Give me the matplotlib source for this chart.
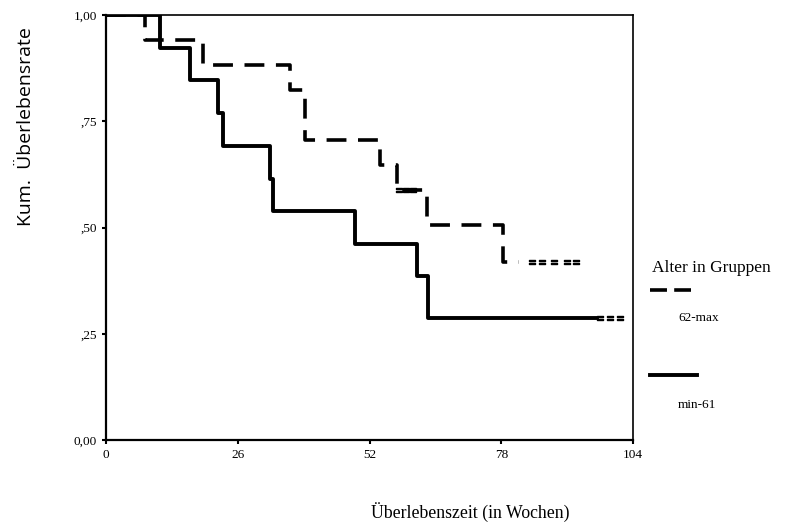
import numpy as np
import matplotlib.pyplot as plt

# Kaplan-Meier Stufen (Wochen, kum. Überlebensrate)
zeit_alt = [0, 7.7, 19.1, 36.3, 39.3, 54.1, 57.4, 63.3, 78.3, 81.5]
surv_alt = [1.0, 0.941, 0.882, 0.824, 0.706, 0.647, 0.588, 0.506, 0.419, 0.419]
zensiert_alt_t = [57.9, 59.3, 60.6, 84.0, 86.0, 88.5, 91.0, 92.8]
zensiert_alt_s = [0.588, 0.588, 0.588, 0.419, 0.419, 0.419, 0.419, 0.419]

zeit_jung = [0, 10.7, 16.6, 22.1, 23.1, 32.4, 33.0, 49.1, 61.4, 63.5, 96.9]
surv_jung = [1.0, 0.923, 0.846, 0.769, 0.692, 0.615, 0.538, 0.462, 0.385, 0.288, 0.288]
zensiert_jung_t = [97.5, 99.5, 101.4]
zensiert_jung_s = [0.288, 0.288, 0.288]

x_ticks = [0, 26, 52, 78, 104]
y_ticks = [0, 0.25, 0.5, 0.75, 1.0]
y_labels = ['0,00', ',25', ',50', ',75', '1,00']

plt.rcParams['font.family'] = ['Liberation Serif', 'DejaVu Serif']

fig = plt.figure(figsize=(8.05, 5.25), dpi=100)
ax = fig.add_axes([106 / 805, 85 / 525, 527 / 805, 425 / 525])

ax.step(zeit_alt, surv_alt, where='post', color='black', lw=2.6,
        dashes=(5.5, 3.2), solid_capstyle='butt')
ax.step(zeit_jung, surv_jung, where='post', color='black', lw=2.8)
ax.plot(zensiert_alt_t, zensiert_alt_s, ls='none', marker='$=$', ms=5, color='black')
ax.plot(zensiert_jung_t, zensiert_jung_s, ls='none', marker='$=$', ms=5, color='black')

ax.set_xlim(0, 104)
ax.set_ylim(0, 1)
ax.set_xticks(x_ticks)
ax.set_yticks(y_ticks)
ax.set_yticklabels(y_labels)
ax.tick_params(labelsize=9.5, length=3, width=1.5, direction='out')
for s in ax.spines.values():
    s.set_linewidth(1.2)
ax.spines['left'].set_linewidth(1.6)
ax.spines['bottom'].set_linewidth(1.6)

fig.text(26 / 805, 1 - 127 / 525, 'Kum.  Überlebensrate', rotation=90,
         ha='center', va='center', fontsize=14, family=['Open Sans', 'DejaVu Sans'])
fig.text(470 / 805, 1 - 512 / 525, 'Überlebenszeit (in Wochen)',
         ha='center', va='center', fontsize=12.8)

# Legende
fig.text(652 / 805, 1 - 268 / 525, 'Alter in Gruppen', ha='left', va='center', fontsize=12.5)
fig.add_artist(plt.Line2D([650 / 805, 691 / 805], [1 - 290 / 525, 1 - 290 / 525],
                          color='black', lw=2.6, dashes=(4.7, 2.0)))
fig.text(678 / 805, 1 - 318 / 525, '62-max', ha='left', va='center', fontsize=9.5)
fig.add_artist(plt.Line2D([650 / 805, 697 / 805], [1 - 375 / 525, 1 - 375 / 525],
                          color='black', lw=2.8))
fig.text(678 / 805, 1 - 405 / 525, 'min-61', ha='left', va='center', fontsize=9.5)

fig.savefig('out.png', dpi=100)
